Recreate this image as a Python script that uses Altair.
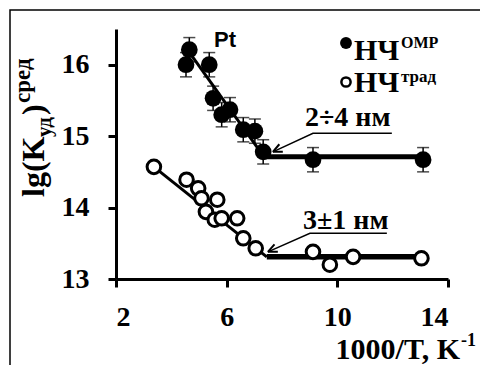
import altair as alt
import pandas as pd

# ---- data ----
filled_x = [4.65, 4.53, 5.37, 5.51, 5.82, 6.12, 6.60, 7.02, 7.32, 9.12, 13.10]
filled_y = [16.21, 16.00, 16.00, 15.53, 15.30, 15.37, 15.09, 15.07, 14.78, 14.67, 14.67]
filled_err = [0.17, 0.17, 0.17, 0.17, 0.17, 0.17, 0.17, 0.17, 0.17, 0.17, 0.17]

open_x = [3.37, 4.55, 4.97, 5.09, 5.66, 5.25, 5.57, 5.82, 6.38, 6.60, 7.05, 9.12, 9.73, 10.57, 13.04]
open_y = [14.57, 14.39, 14.27, 14.13, 14.11, 13.94, 13.83, 13.85, 13.85, 13.57, 13.43, 13.38, 13.20, 13.31, 13.29]

# fitted lines: sloped part and flat part
fit_f_slope_x = [4.60, 7.35]
fit_f_slope_y = [16.20, 14.71]
fit_f_flat_x = [7.35, 13.10]
fit_f_flat_y = [14.71, 14.71]
fit_o_slope_x = [3.37, 7.45]
fit_o_slope_y = [14.57, 13.31]
fit_o_flat_x = [7.45, 13.04]
fit_o_flat_y = [13.31, 13.31]

# annotation leader lines (underline end, underline start, arrow tip)
ann_f_x = [11.97, 9.12, 7.67]
ann_f_y = [15.04, 15.04, 14.78]
ann_o_x = [11.79, 9.01, 7.49]
ann_o_y = [13.64, 13.64, 13.38]

x_ticks = [2, 6, 10, 14]
y_ticks = [13, 14, 15, 16]

SERIF = "Liberation Serif"
LEFT, TOP = 116, 29
W, H = 332, 250

xs = alt.Scale(domain=[2, 14], nice=False, zero=False)
ys = alt.Scale(domain=[13, 16.5], nice=False, zero=False)
x_axis = alt.Axis(values=x_ticks, labelPadding=16, title=None)
y_axis = alt.Axis(values=y_ticks, labelPadding=19, title=None)

def X(field="x"):
    return alt.X(f"{field}:Q", scale=xs, axis=x_axis)

def Y(field="y"):
    return alt.Y(f"{field}:Q", scale=ys, axis=y_axis)

df_f = pd.DataFrame({"x": filled_x, "y": filled_y, "err": filled_err})
df_f["lo"] = df_f["y"] - df_f["err"]
df_f["hi"] = df_f["y"] + df_f["err"]
df_o = pd.DataFrame({"x": open_x, "y": open_y})

one = alt.Data(values=[{"a": 1}])

def txt(text, x, y, size, font=SERIF, align="left", baseline="alphabetic", angle=0, weight="bold"):
    return alt.Chart(one).mark_text(
        text=text, font=font, fontSize=size, fontWeight=weight, align=align,
        baseline=baseline, angle=angle, color="black"
    ).encode(x=alt.value(x - LEFT), y=alt.value(y - TOP))

def seg(xv, yv, width):
    d = pd.DataFrame({"x": xv, "y": yv, "o": list(range(len(xv)))})
    return alt.Chart(d).mark_line(color="black", strokeWidth=width).encode(
        x=X(), y=Y(), order="o:Q")

frame = alt.Chart(one).mark_rect(fillOpacity=0, stroke="black", strokeWidth=1.5).encode(
    x=alt.value(10 - LEFT), x2=alt.value(600), y=alt.value(10 - TOP), y2=alt.value(600))

lines = [
    seg(fit_f_slope_x, fit_f_slope_y, 3),
    seg(fit_f_flat_x, fit_f_flat_y, 5),
    seg(fit_o_slope_x, fit_o_slope_y, 3),
    seg(fit_o_flat_x, fit_o_flat_y, 5.5),
    seg(ann_f_x, ann_f_y, 1.5),
    seg(ann_o_x, ann_o_y, 1.5),
]

arrow_shape = "M0,0L1,-0.45M0,0L1,0.45"
arrow_f = alt.Chart(pd.DataFrame({"x": [ann_f_x[2]], "y": [ann_f_y[2]]})).mark_point(
    shape=arrow_shape, size=330, filled=False, stroke="black", strokeWidth=2, angle=334.6, opacity=1
).encode(x=X(), y=Y())
arrow_o = alt.Chart(pd.DataFrame({"x": [ann_o_x[2]], "y": [ann_o_y[2]]})).mark_point(
    shape=arrow_shape, size=330, filled=False, stroke="black", strokeWidth=2, angle=335.7, opacity=1
).encode(x=X(), y=Y())

err_rule = alt.Chart(df_f).mark_rule(color="black", strokeWidth=1.5).encode(
    x=X(), y=Y("lo"), y2="hi:Q")
err_lo = alt.Chart(df_f).mark_tick(color="black", orient="horizontal", size=12, thickness=1.5).encode(
    x=X(), y=Y("lo"))
err_hi = alt.Chart(df_f).mark_tick(color="black", orient="horizontal", size=12, thickness=1.5).encode(
    x=X(), y=Y("hi"))

pts_f = alt.Chart(df_f).mark_circle(color="black", size=280, opacity=1).encode(x=X(), y=Y())
pts_o = alt.Chart(df_o).mark_point(
    shape="circle", filled=True, fill="white", stroke="black", strokeWidth=3, size=185, opacity=1
).encode(x=X(), y=Y())

# legend
leg_f = alt.Chart(one).mark_circle(color="black", size=140, opacity=1).encode(
    x=alt.value(346 - LEFT), y=alt.value(43 - TOP))
leg_o = alt.Chart(one).mark_point(shape="circle", fill="white", filled=True, stroke="black",
                                  strokeWidth=2.5, size=85, opacity=1).encode(
    x=alt.value(346 - LEFT), y=alt.value(82 - TOP))

texts = [
    txt("Pt", 214, 47, 22, font="Liberation Sans"),
    txt("НЧ", 354, 60, 30),
    txt("ОМР", 401, 48, 16),
    txt("НЧ", 354, 92, 30),
    txt("трад", 401, 82, 17),
    txt("2÷4 нм", 305, 126, 28),
    txt("3±1 нм", 303, 229, 28),
    txt("1000/T, K", 460, 359, 30, align="right"),
    txt("-1", 461, 346, 18),
    # y title pieces (rotated)
    txt("lg(K", 44, 197, 32, angle=270),
    txt("уд", 51, 137, 21, angle=270),
    txt(")", 44, 115, 32, angle=270),
    txt("сред", 30, 103, 23, angle=270),
]

chart = alt.layer(
    frame, *lines, arrow_f, arrow_o, err_rule, err_lo, err_hi, pts_f, pts_o,
    leg_f, leg_o, *texts
).properties(
    width=W, height=H,
    autosize=alt.AutoSizeParams(type="none"),
    padding={"left": LEFT, "top": TOP, "right": 480 - LEFT - W, "bottom": 365 - TOP - H},
    background="white",
).configure_view(stroke=None).configure_axis(
    grid=False, domainColor="black", domainWidth=3, tickColor="black", tickWidth=3, tickSize=8,
    labelFont=SERIF, labelFontWeight="bold", labelFontSize=28, labelColor="black",
)

chart.save("out.html", embed_options={"renderer": "svg", "actions": False})
